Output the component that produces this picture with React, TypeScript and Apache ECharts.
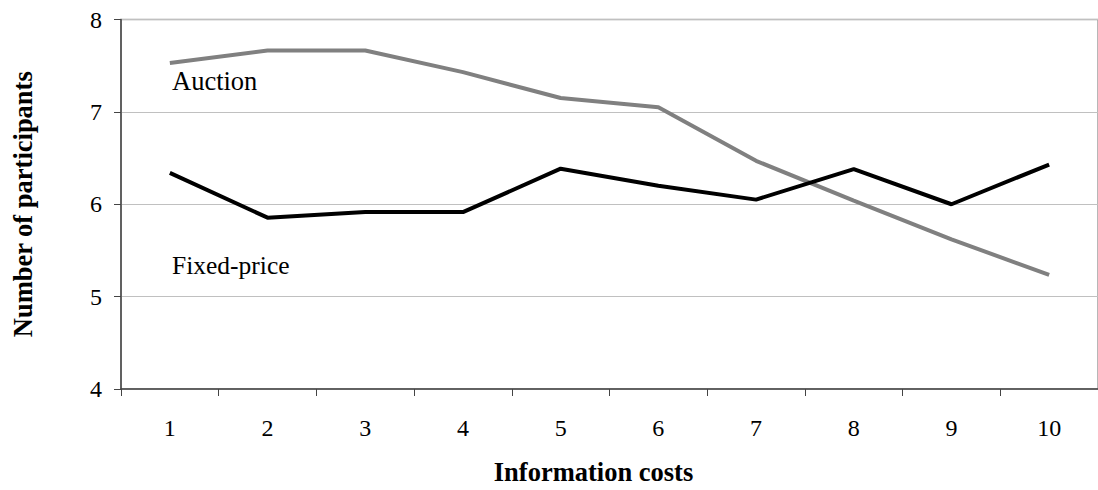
import React, { useEffect, useRef } from "react";
import * as echarts from "echarts";

const categories = ["1", "2", "3", "4", "5", "6", "7", "8", "9", "10"];
const auction = [7.53, 7.665, 7.665, 7.43, 7.15, 7.05, 6.47, 6.04, 5.62, 5.235];
const fixedPrice = [6.34, 5.855, 5.915, 5.915, 6.385, 6.2, 6.05, 6.38, 6.0, 6.43];
const yTicks = [4, 5, 6, 7, 8];

const FONT = "'Liberation Serif', 'Times New Roman', serif";

export default function App() {
  const ref = useRef<HTMLDivElement>(null);
  useEffect(() => {
    if (!ref.current) return;
    const chart = echarts.init(ref.current, undefined, { renderer: "svg" });
    chart.setOption({
      animation: false,
      backgroundColor: "#ffffff",
      grid: {
        left: 121,
        top: 19.5,
        width: 982,
        height: 375.5,
        show: true,
        borderColor: "#a0a0a0",
        borderWidth: 1.5,
        backgroundColor: "transparent",
      },
      xAxis: {
        type: "category",
        data: categories,
        boundaryGap: true,
        axisLine: { show: true, lineStyle: { color: "#444444", width: 1.5 } },
        axisTick: { show: true, length: 7, lineStyle: { color: "#444444", width: 1 } },
        axisLabel: { color: "#000000", fontFamily: FONT, fontSize: 24, margin: 27 },
        name: "Information costs",
        nameLocation: "middle",
        nameGap: 69,
        nameTextStyle: {
          color: "#000000",
          fontFamily: FONT,
          fontSize: 26.5,
          fontWeight: "bold",
          padding: [0, 32, 0, 0],
        },
        splitLine: { show: false },
      },
      yAxis: {
        type: "value",
        min: yTicks[0],
        max: yTicks[yTicks.length - 1],
        interval: 1,
        axisLine: { show: true, lineStyle: { color: "#444444", width: 1.5 } },
        axisTick: { show: true, inside: false, length: 7, lineStyle: { color: "#444444", width: 1 } },
        axisLabel: { color: "#000000", fontFamily: FONT, fontSize: 24, margin: 19 },
        splitLine: { show: true, lineStyle: { color: "#c0c0c0", width: 1 } },
        name: "Number of participants",
        nameLocation: "middle",
        nameGap: 85,
        nameRotate: 90,
        nameTextStyle: {
          color: "#000000",
          fontFamily: FONT,
          fontSize: 26.5,
          fontWeight: "bold",
        },
      },
      series: [
        {
          name: "Auction",
          type: "line",
          data: auction,
          symbol: "none",
          lineStyle: { color: "#808080", width: 4 },
          itemStyle: { color: "#808080" },
        },
        {
          name: "Fixed-price",
          type: "line",
          data: fixedPrice,
          symbol: "none",
          lineStyle: { color: "#000000", width: 4 },
          itemStyle: { color: "#000000" },
        },
      ],
      graphic: [
        {
          type: "text",
          left: 172,
          top: 67,
          style: { text: "Auction", fill: "#000000", font: `26.5px ${FONT}` },
        },
        {
          type: "text",
          left: 172,
          top: 252,
          style: { text: "Fixed-price", fill: "#000000", font: `25.5px ${FONT}` },
        },
      ],
    });
    return () => chart.dispose();
  }, []);
  return (
    <div
      ref={ref}
      style={{ position: "fixed", left: 0, top: 0, width: 1098, height: 490, background: "#fff" }}
    />
  );
}
